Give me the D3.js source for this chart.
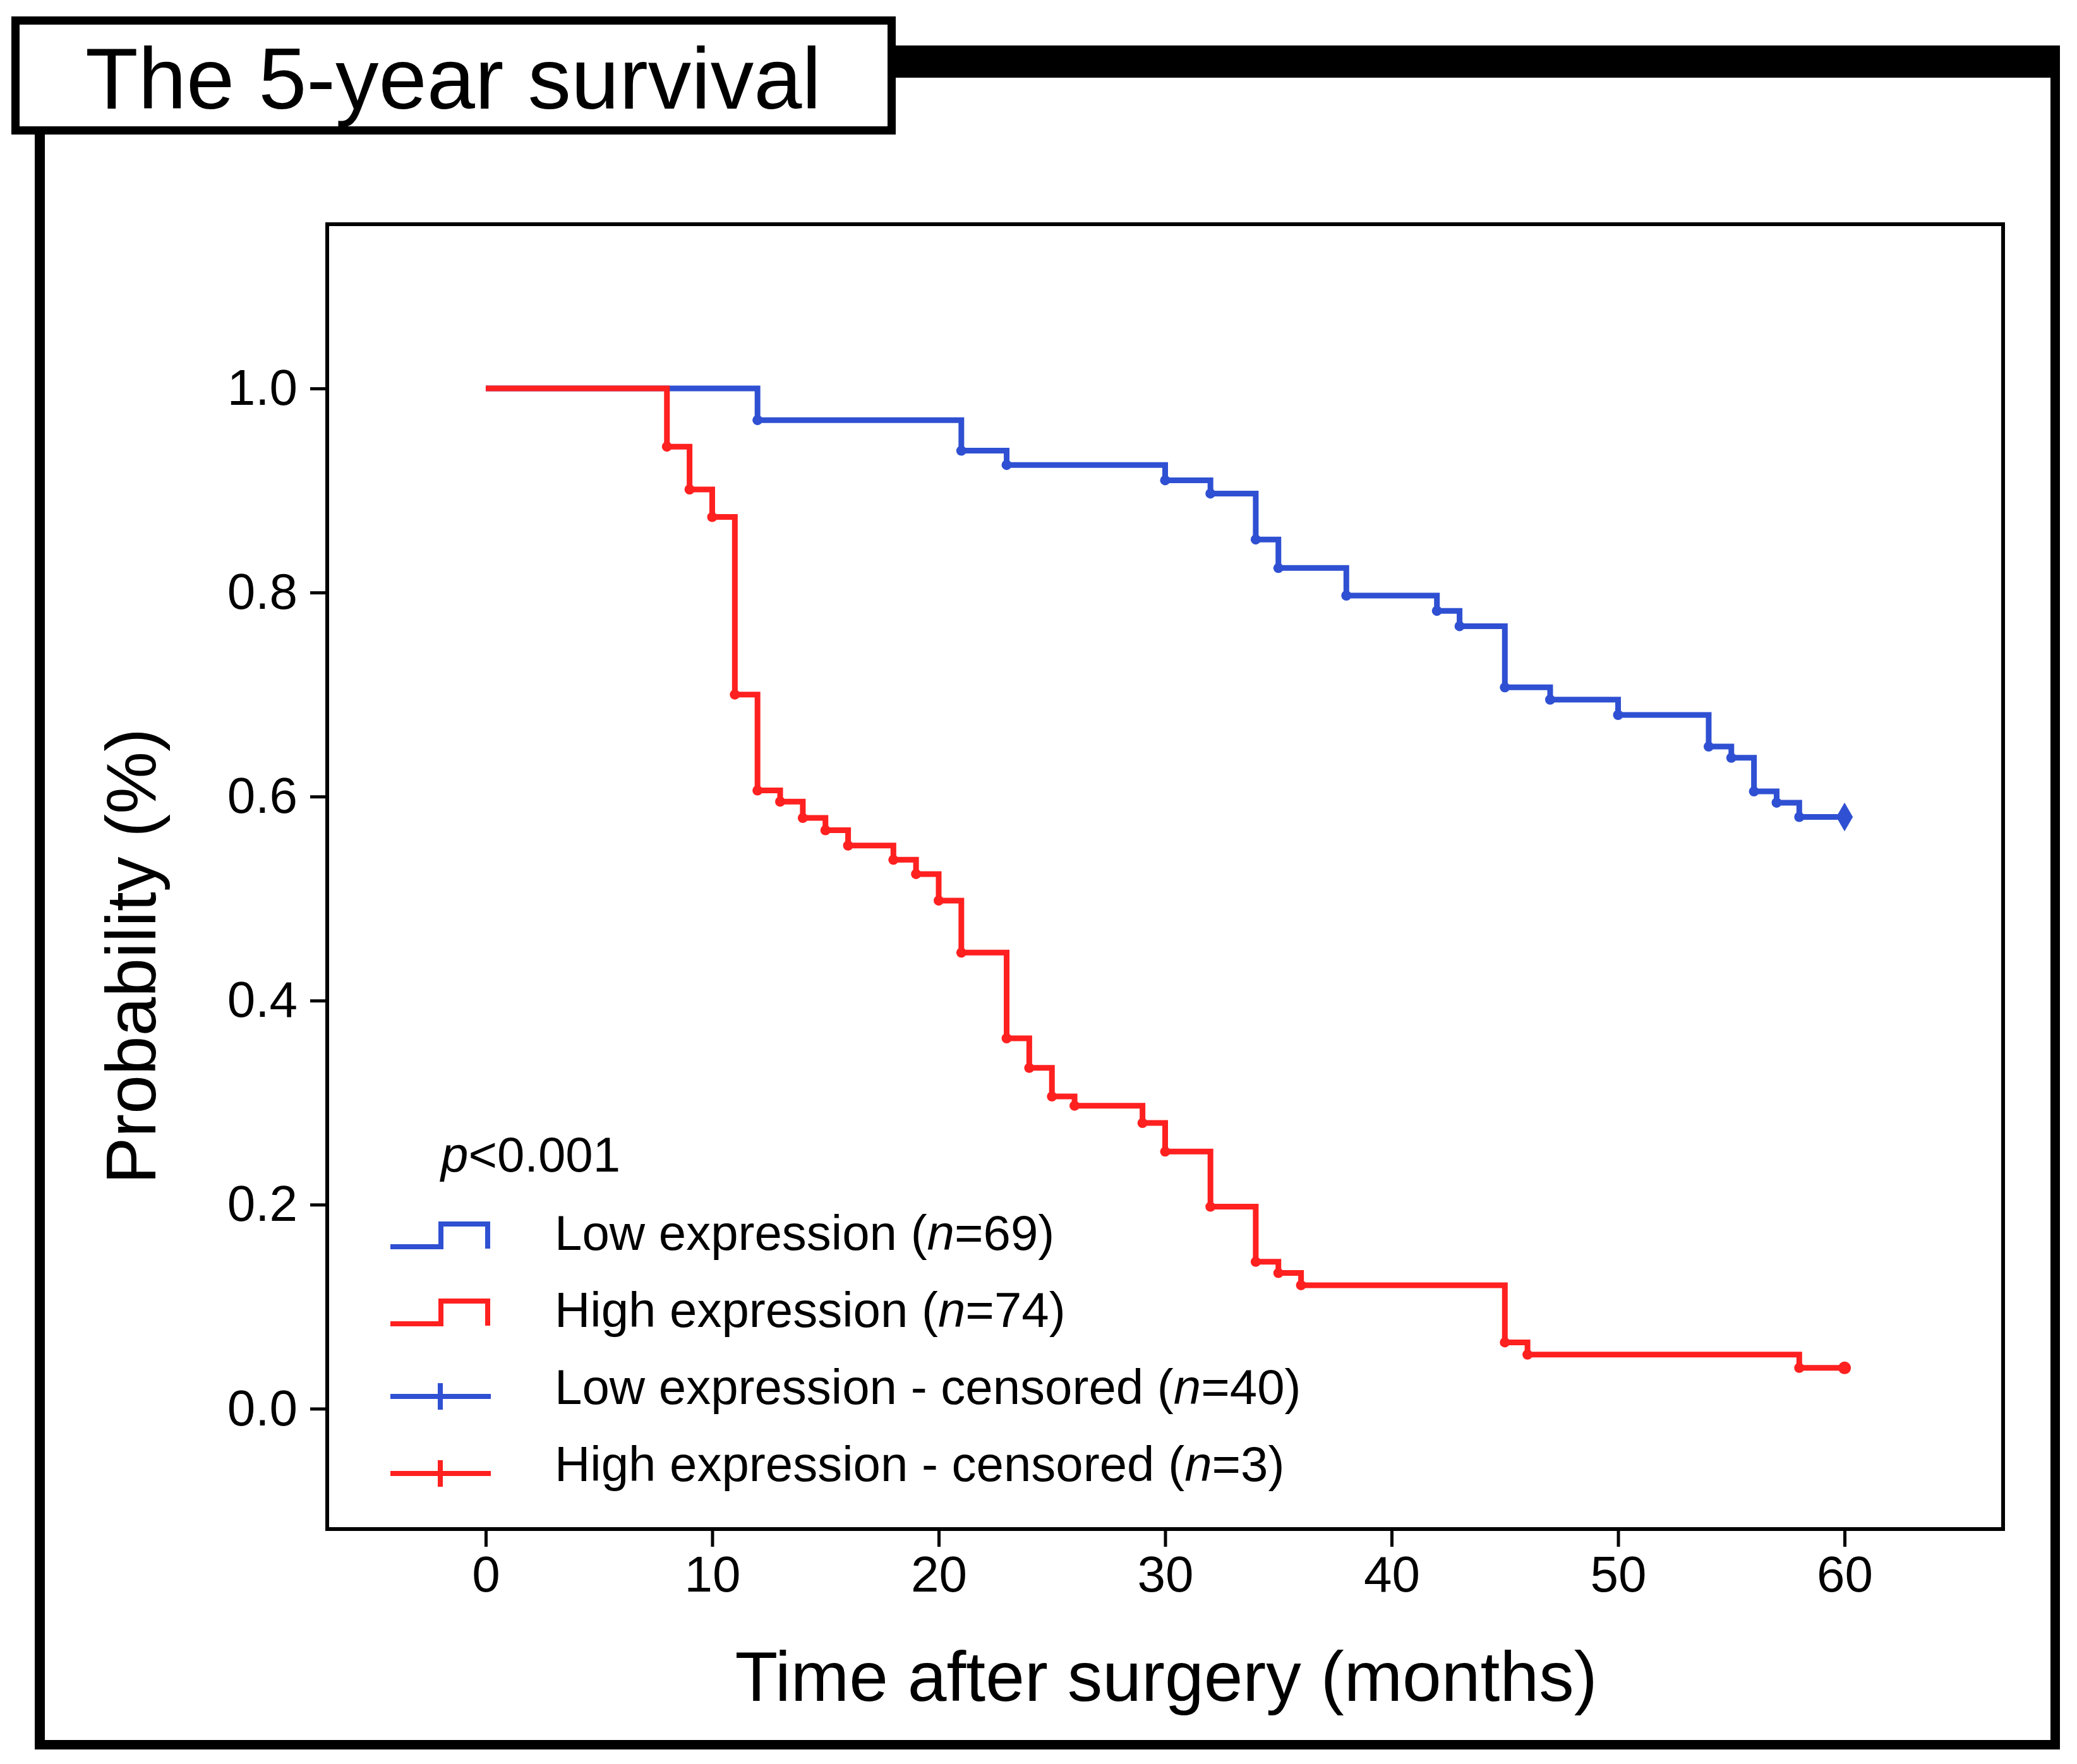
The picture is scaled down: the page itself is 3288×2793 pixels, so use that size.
<!DOCTYPE html>
<html>
<head>
<meta charset="utf-8">
<script src="https://cdn.jsdelivr.net/npm/d3@7"></script>
<style>
  body { margin: 0; background: #fff; }
  text { font-family: "Liberation Sans", Arial, Helvetica, sans-serif; fill: #000; }
</style>
</head>
<body>
<div id="chart"></div>
<script>
// ---- data ----
const lowTimes = [0, 12, 21, 23, 30, 32, 34, 35, 38, 42, 43, 45, 47, 50, 54, 55, 56, 57, 58, 60];
const lowSurv = [1.0, 0.969, 0.939, 0.925, 0.910, 0.897, 0.852, 0.824, 0.797, 0.782, 0.767, 0.707, 0.695, 0.680, 0.649, 0.638, 0.605, 0.594, 0.580, 0.580];

const highTimes = [0, 8, 9, 10, 11, 12, 13, 14, 15, 16, 18, 19, 20, 21, 23, 24, 25, 26, 29, 30, 32, 34, 35, 36, 45, 46, 58, 60];
const highSurv = [1.0, 0.943, 0.901, 0.874, 0.700, 0.606, 0.595, 0.579, 0.567, 0.552, 0.538, 0.524, 0.498, 0.447, 0.363, 0.334, 0.306, 0.297, 0.280, 0.252, 0.198, 0.144, 0.133, 0.121, 0.065, 0.053, 0.040, 0.040];

const xTicks = [0, 10, 20, 30, 40, 50, 60];
const yTicks = [0.0, 0.2, 0.4, 0.6, 0.8, 1.0];

const legendNames = ["Low expression", "High expression", "Low expression - censored", "High expression - censored"];
const legendN = [69, 74, 40, 3];
const legendKind = ["step", "step", "cross", "cross"];

const title = "The 5-year survival";
const pText = "<0.001";
const xLabel = "Time after surgery (months)";
const yLabel = "Probability (%)";

const blue = "#2f50d2";
const red = "#ff2020";
const legendColors = [blue, red, blue, red];

// ---- svg ----
const W = 3288, H = 2793;
let svg = d3.select("#chart").append("svg")
  .attr("width", W)
  .attr("height", H)
  .style("background-color", "white");

// outer frame
svg.append("rect").attr("x", 24.5).attr("y", 32.5).attr("width", 1387).attr("height", 174)
  .attr("fill", "white").attr("stroke", "black").attr("stroke-width", 13);
svg.append("rect").attr("x", 1417).attr("y", 72).attr("width", 1844).attr("height", 51).attr("fill", "black");
svg.append("line").attr("x1", 63).attr("y1", 213).attr("x2", 63).attr("y2", 2770)
  .attr("stroke", "black").attr("stroke-width", 16);
svg.append("line").attr("x1", 3253.5).attr("y1", 72).attr("x2", 3253.5).attr("y2", 2770)
  .attr("stroke", "black").attr("stroke-width", 15);
svg.append("line").attr("x1", 55).attr("y1", 2762.5).attr("x2", 3261).attr("y2", 2762.5)
  .attr("stroke", "black").attr("stroke-width", 15);

svg.append("text").text(title)
  .attr("x", 135).attr("y", 172)
  .style("font-size", "137px");

// ---- scales ----
let x = d3.scaleLinear().domain([-7, 67]).range([518, 3171]);
let y = d3.scaleLinear().domain([-0.118, 1.161]).range([2421, 355]);

// axes
let xAxis = d3.axisBottom(x).tickValues(xTicks).tickSize(28).tickPadding(14).tickFormat(d3.format("d"));
let yAxis = d3.axisLeft(y).tickValues(yTicks).tickSize(27).tickPadding(20).tickFormat(d3.format(".1f"));

let gx = svg.append("g").attr("transform", `translate(0,${y.range()[0]})`).call(xAxis);
let gy = svg.append("g").attr("transform", `translate(${x.range()[0]},0)`).call(yAxis);
[gx, gy].forEach(g => {
  g.select(".domain").remove();
  g.selectAll(".tick line").attr("stroke", "black").attr("stroke-width", 5);
  g.selectAll(".tick text")
    .style("font-family", "'Liberation Sans', Arial, sans-serif")
    .style("font-size", "80px").attr("fill", "black");
});

// plot box
svg.append("rect")
  .attr("x", x.range()[0]).attr("y", y.range()[1])
  .attr("width", x.range()[1] - x.range()[0])
  .attr("height", y.range()[0] - y.range()[1])
  .attr("fill", "none").attr("stroke", "black").attr("stroke-width", 6);

// axis labels
svg.append("text").text(xLabel)
  .attr("x", 1846).attr("y", 2693)
  .attr("text-anchor", "middle")
  .style("font-size", "111px");
svg.append("text").text(yLabel)
  .attr("transform", "translate(246,1514) rotate(-90)")
  .attr("text-anchor", "middle")
  .style("font-size", "111px");

// ---- curves ----
let line = d3.line()
  .x(d => x(d[0]))
  .y(d => y(d[1]))
  .curve(d3.curveStepAfter);

function drawCurve(times, surv, color, endSymbol, endSize) {
  let pts = times.map((t, i) => [t, surv[i]]);
  let g = svg.append("g");
  g.append("path")
    .datum(pts)
    .attr("d", line)
    .attr("fill", "none")
    .attr("stroke", color)
    .attr("stroke-width", 9);
  // small dots where deaths happen
  g.selectAll("circle").data(pts.slice(1, pts.length - 1))
    .enter()
    .append("circle")
    .attr("cx", d => x(d[0]))
    .attr("cy", d => y(d[1]))
    .attr("r", 8)
    .attr("fill", color);
  // censor mark at the end
  let last = pts[pts.length - 1];
  g.append("path")
    .attr("d", d3.symbol().type(endSymbol).size(endSize))
    .attr("transform", `translate(${x(last[0])},${y(last[1])})`)
    .attr("fill", color);
}

drawCurve(lowTimes, lowSurv, blue, d3.symbolDiamond, 600);
drawCurve(highTimes, highSurv, red, d3.symbolCircle, 320);

// ---- legend ----
let lgX = 618, lgW = 157, lgText = 878, lgBase = 1979, lgStep = 122;

let pt = svg.append("text").attr("x", 698).attr("y", 1855).style("font-size", "78px");
pt.append("tspan").text("p").style("font-style", "italic");
pt.append("tspan").text(pText);

legendNames.forEach((name, i) => {
  let base = lgBase + i * lgStep;
  let c = legendColors[i];
  if (legendKind[i] === "step") {
    let lo = base - 5, hi = base - 41, mid = lgX + 80;
    svg.append("path")
      .attr("d", `M${lgX},${lo}H${mid}V${hi}H${lgX + lgW - 3}V${lo + 3}`)
      .attr("fill", "none").attr("stroke", c).attr("stroke-width", 8);
  } else {
    let ly = base - 12, mid = lgX + 79;
    svg.append("line").attr("x1", lgX).attr("x2", lgX + lgW + 2).attr("y1", ly).attr("y2", ly)
      .attr("stroke", c).attr("stroke-width", 8);
    svg.append("line").attr("x1", mid).attr("x2", mid).attr("y1", ly - 21).attr("y2", ly + 21)
      .attr("stroke", c).attr("stroke-width", 8);
  }
  let t = svg.append("text").attr("x", lgText).attr("y", base).style("font-size", "78px");
  t.append("tspan").text(name + " (");
  t.append("tspan").text("n").style("font-style", "italic");
  t.append("tspan").text("=" + legendN[i] + ")");
});
</script>
</body>
</html>
